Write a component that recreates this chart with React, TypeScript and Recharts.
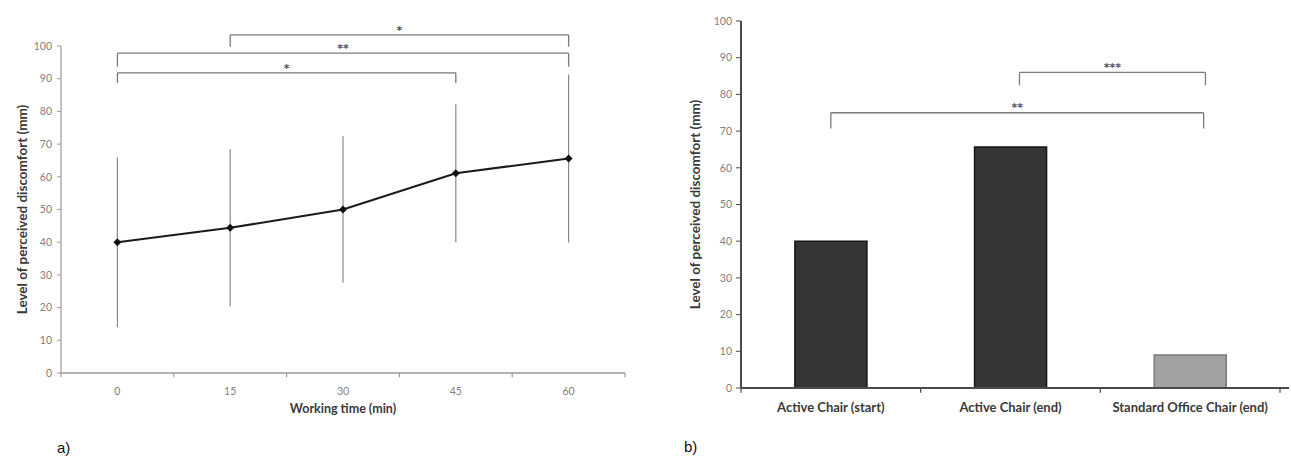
import React from 'react'
import {
  LineChart,
  Line,
  BarChart,
  Bar,
  Cell,
  XAxis,
  YAxis,
  ErrorBar,
  ReferenceLine,
  ReferenceDot,
  Label,
} from 'recharts'

// a) discomfort over working time
const times = [0, 15, 30, 45, 60]
const discomfortMean = [40, 44.4, 50, 61.1, 65.6]
const discomfortSd = [26, 24, 22.4, 21.1, 25.7]

// b) discomfort by chair
const chairs = ['Active Chair (start)', 'Active Chair (end)', 'Standard Office Chair (end)']
const chairDiscomfort = [40, 65.7, 9]
const chairFill = ['#353535', '#353535', '#a2a2a2']
const chairStroke = ['#151515', '#151515', '#7a7a7a']

const yTicks = [0, 10, 20, 30, 40, 50, 60, 70, 80, 90, 100]

// significance brackets (x in axis units, y = bracket height, drop = leg length)
const timeBrackets = [
  { from: 15, to: 60, y: 103.4, drop: 3.6, label: '*' },
  { from: 0, to: 60, y: 97.8, drop: 4.1, label: '**' },
  { from: 0, to: 45, y: 91.8, drop: 3.1, label: '*' },
]
const chairBrackets = [
  { from: 1.55, to: 2.585, y: 86, drop: 3.5, label: '***' },
  { from: 0.5, to: 2.575, y: 75, drop: 4.3, label: '**' },
]

const lineData = times.map((t, i) => ({ time: t, mean: discomfortMean[i], sd: discomfortSd[i] }))
const barData = chairs.map((c, i) => ({ chair: c, slot: i + 0.5, value: chairDiscomfort[i] }))

const step = times[1] - times[0]
const timeDomain = [times[0] - step / 2, times[times.length - 1] + step / 2]
const timeBounds = [...times.map((t) => t - step / 2), times[times.length - 1] + step / 2]
const chairBounds = [0, ...chairs.map((_, i) => i + 1)]

const font = 'Lato, "Open Sans", sans-serif'
const bracketColor = '#7a7a7a'

function brackets(list: typeof timeBrackets, prefix: string, xAxisId?: string) {
  const out: React.ReactNode[] = []
  list.forEach((b, i) => {
    const common = {
      stroke: bracketColor,
      strokeWidth: 1.3,
      ifOverflow: 'visible' as const,
      ...(xAxisId ? { xAxisId } : {}),
    }
    out.push(
      <ReferenceLine key={`${prefix}h${i}`} {...common} segment={[{ x: b.from, y: b.y }, { x: b.to, y: b.y }]} />,
      <ReferenceLine key={`${prefix}l${i}`} {...common} segment={[{ x: b.from, y: b.y }, { x: b.from, y: b.y - b.drop }]} />,
      <ReferenceLine key={`${prefix}r${i}`} {...common} segment={[{ x: b.to, y: b.y }, { x: b.to, y: b.y - b.drop }]} />,
      <ReferenceDot
        key={`${prefix}t${i}`}
        x={(b.from + b.to) / 2}
        y={b.y + 0.4}
        r={0}
        fill="none"
        stroke="none"
        ifOverflow="visible"
        {...(xAxisId ? { xAxisId } : {})}
        label={{ value: b.label, position: 'top', offset: 0, fill: '#505050', fontSize: 11, fontWeight: 700, fontFamily: '"DejaVu Sans", sans-serif' }}
      />
    )
  })
  return out
}

const Diamond = (props: any) => {
  const { cx, cy } = props
  if (cx == null || cy == null) return null
  return <path d={`M${cx},${cy - 4}L${cx + 4},${cy}L${cx},${cy + 4}L${cx - 4},${cy}Z`} fill="#111" />
}

export default function App() {
  return (
    <div style={{ position: 'absolute', left: 0, top: 0, width: 1291, height: 456, background: '#fff', overflow: 'hidden' }}>
      <div style={{ position: 'absolute', left: 0, top: 0 }}>
        <LineChart width={640} height={456} data={lineData} margin={{ top: 46, right: 15, bottom: 38, left: 0 }}>
          <XAxis
            dataKey="time"
            type="number"
            domain={timeDomain}
            ticks={times}
            interval={0}
            allowDataOverflow
            tickLine={false}
            tickSize={0}
            tickMargin={15}
            height={45}
            axisLine={{ stroke: '#9a9a9a', strokeWidth: 1.5 }}
            tick={{ fill: '#808080', fontSize: 10.5, fontFamily: font }}
          >
            <Label
              value="Working time (min)"
              position="insideBottom"
              offset={5}
              style={{ fill: '#3a3a3a', fontSize: 12.5, fontWeight: 700, fontFamily: font }}
            />
          </XAxis>
          <YAxis
            domain={[0, 100]}
            ticks={yTicks}
            interval={0}
            width={61}
            tickSize={4}
            tickMargin={5}
            axisLine={{ stroke: '#9a9a9a', strokeWidth: 1.2 }}
            tickLine={{ stroke: '#9a9a9a' }}
            tick={{ fill: '#808080', fontSize: 10.5, fontFamily: font }}
          >
            <Label
              value="Level of perceived discomfort (mm)"
              angle={-90}
              position="insideLeft"
              offset={22}
              style={{ textAnchor: 'middle', fill: '#3a3a3a', fontSize: 13.5, fontWeight: 700, fontFamily: font }}
            />
          </YAxis>
          {timeBounds.map((x) => (
            <ReferenceLine
              key={`tb${x}`}
              segment={[{ x, y: 0 }, { x, y: -1.3 }]}
              stroke="#9a9a9a"
              strokeWidth={1.2}
              ifOverflow="visible"
            />
          ))}
          {brackets(timeBrackets, 'tm')}
          <Line
            dataKey="mean"
            stroke="#1a1a1a"
            strokeWidth={2}
            dot={<Diamond />}
            activeDot={false}
            isAnimationActive={false}
          >
            <ErrorBar dataKey="sd" width={0} stroke="#8a8a8a" strokeWidth={1.2} direction="y" />
          </Line>
        </LineChart>
      </div>
      <div style={{ position: 'absolute', left: 640, top: 0 }}>
        <BarChart
          width={651}
          height={456}
          data={barData}
          margin={{ top: 21, right: 11, bottom: 38, left: 40 }}
          barCategoryGap="30%"
        >
          <XAxis
            dataKey="chair"
            interval={0}
            tickLine={false}
            tickSize={0}
            tickMargin={15}
            height={30}
            axisLine={{ stroke: '#4a4a4a', strokeWidth: 2 }}
            tick={{ fill: '#3a3a3a', fontSize: 13, fontWeight: 700, fontFamily: font }}
          />
          <XAxis
            xAxisId="pos"
            dataKey="slot"
            type="number"
            domain={[0, chairs.length]}
            allowDataOverflow
            hide
          />
          <YAxis
            domain={[0, 100]}
            ticks={yTicks}
            interval={0}
            width={61}
            tickSize={5}
            tickMargin={4}
            axisLine={{ stroke: '#4a4a4a', strokeWidth: 2 }}
            tickLine={{ stroke: '#4a4a4a' }}
            tick={{ fill: '#808080', fontSize: 10.5, fontFamily: font }}
          >
            <Label
              value="Level of perceived discomfort (mm)"
              angle={-90}
              position="insideLeft"
              offset={15}
              style={{ textAnchor: 'middle', fill: '#3a3a3a', fontSize: 13.5, fontWeight: 700, fontFamily: font }}
            />
          </YAxis>
          {chairBounds.map((x) => (
            <ReferenceLine
              key={`cb${x}`}
              xAxisId="pos"
              segment={[{ x, y: 0 }, { x, y: -1.3 }]}
              stroke="#4a4a4a"
              strokeWidth={1.2}
              ifOverflow="visible"
            />
          ))}
          <ReferenceLine
            xAxisId="pos"
            segment={[{ x: 0, y: 0 }, { x: chairs.length + 0.05, y: 0 }]}
            stroke="#4a4a4a"
            strokeWidth={2}
            ifOverflow="visible"
          />
          {brackets(chairBrackets, 'ch', 'pos')}
          <Bar dataKey="value" strokeWidth={1.5} isAnimationActive={false}>
            {barData.map((d, i) => (
              <Cell key={d.chair} fill={chairFill[i]} stroke={chairStroke[i]} />
            ))}
          </Bar>
        </BarChart>
      </div>
      <div style={{ position: 'absolute', left: 57, top: 439, fontFamily: '"Liberation Sans", Arial, sans-serif', fontSize: 15, lineHeight: '18px', color: '#111' }}>
        a)
      </div>
      <div style={{ position: 'absolute', left: 684, top: 438, fontFamily: '"Liberation Sans", Arial, sans-serif', fontSize: 15, lineHeight: '18px', color: '#111' }}>
        b)
      </div>
    </div>
  )
}
